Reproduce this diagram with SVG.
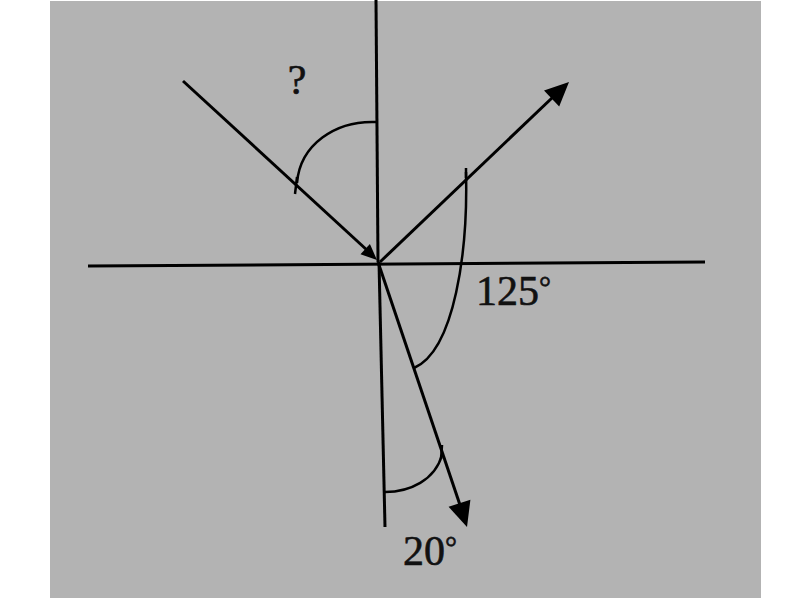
<svg xmlns="http://www.w3.org/2000/svg" width="800" height="600" viewBox="0 0 800 600">
<style>
.ln{stroke:#000;stroke-width:3;fill:none;stroke-linecap:butt}
.arc{stroke:#000;stroke-width:2.5;fill:none}
.ah{fill:#000}
.lbl{font-family:"Liberation Serif","Times New Roman",serif;font-size:42px;fill:#111;stroke:#111;stroke-width:0.6}
.deg{font-size:30px}
</style>
<rect x="0" y="0" width="800" height="600" fill="#fff"/>
<rect x="50" y="1" width="711" height="597" fill="#b3b3b3"/>
<g id="axes">
<path class="ln" d="M376 0 L378 262"/>
<path class="ln" d="M379 262 L385 527"/>
<path class="ln" d="M88 266 L705 262"/>
</g>
<g id="connectors">
<g id="incident">
<path class="ln" d="M183 81 L368 251"/>
<polygon class="ah" points="377,260 360.5,254.3 369.9,244.1"/>
</g>
<g id="reflected">
<path class="ln" d="M380 262 L553 97"/>
<polygon class="ah" points="569,82 559.2,106.6 544,90.6"/>
</g>
<g id="refracted">
<path class="ln" d="M378 262 L460 505"/>
<polygon class="ah" points="467,527 448.6,506.8 470.4,499.8"/>
</g>
</g>
<g id="angle-incidence">
<path class="arc" d="M377 122 C335 120 300 145 297 183"/>
<path class="arc" d="M297 177 L295 194"/>
<text class="lbl" x="297" y="94" text-anchor="middle">?</text>
</g>
<g id="angle-125">
<path class="arc" d="M466 172 C468 250 455 350 414 368"/>
<path class="arc" d="M466 168 L466 178"/>
<text class="lbl" x="476" y="305">125<tspan class="deg" dy="-8">°</tspan></text>
</g>
<g id="angle-20">
<path class="arc" d="M385 492 C410 492 435 480 442 455"/>
<path class="arc" d="M442 445 L441 459"/>
<text class="lbl" x="403" y="565">20<tspan class="deg" dy="-8">°</tspan></text>
</g>
</svg>
